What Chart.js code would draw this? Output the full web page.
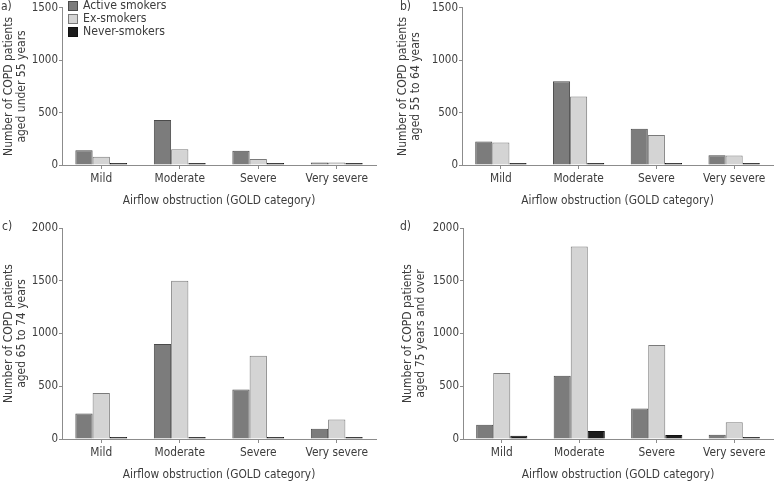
<!DOCTYPE html>
<html>
<head>
<meta charset="utf-8">
<script src="https://cdn.jsdelivr.net/npm/chart.js@4/dist/chart.umd.min.js"></script>
<style>
  body { margin: 0; background: #fff; }
  #wrap { position: relative; width: 783px; height: 482px; }
  .panel { position: absolute; }
</style>
</head>
<body>
<div id="wrap">
  <div class="panel" style="left:0;top:0;width:390px;height:220px"><canvas id="chartA"></canvas></div>
  <div class="panel" style="left:390px;top:0;width:393px;height:220px"><canvas id="chartB"></canvas></div>
  <div class="panel" style="left:0;top:220px;width:390px;height:262px"><canvas id="chartC"></canvas></div>
  <div class="panel" style="left:390px;top:220px;width:393px;height:262px"><canvas id="chartD"></canvas></div>
</div>
<script>
// GOLD categories and smoking groups
const categories = ['Mild', 'Moderate', 'Severe', 'Very severe'];
const seriesNames = ['Active smokers', 'Ex-smokers', 'Never-smokers'];

// a) under 55 years
const under55Active = [140, 430, 135, 25];
const under55Ex = [78, 150, 57, 25];
const under55Never = [5, 6, 4, 5];

// b) 55 to 64 years
const age55to64Active = [225, 800, 345, 94];
const age55to64Ex = [214, 655, 287, 90];
const age55to64Never = [15, 20, 12, 3];

// c) 65 to 74 years
const age65to74Active = [242, 900, 470, 97];
const age65to74Ex = [435, 1500, 790, 186];
const age65to74Never = [12, 18, 12, 5];

// d) 75 years and over
const over75Active = [135, 600, 290, 40];
const over75Ex = [625, 1825, 890, 158];
const over75Never = [30, 75, 38, 5];

const ticksTop = [0, 500, 1000, 1500];
const ticksBottom = [0, 500, 1000, 1500, 2000];

const FONT = "'DejaVu Sans Condensed', 'Roboto', sans-serif";
const TEXT = '#3c3c3c';
const AXIS = '#8c8c8c';
const fills = ['#7c7c7c', '#d4d4d4', '#1c1c1c'];
const borders = ['#4a4a4a', '#7a7a7a', '#111111'];

// panel letter a) b) c) d)
const letterPlugin = {
    id: 'panelLetter',
    afterDraw(chart, args, opts) {
        const ctx = chart.ctx;
        ctx.save();
        ctx.font = Chart.helpers.toFont({ family: FONT, size: 12 }).string;
        ctx.fillStyle = TEXT;
        ctx.textBaseline = 'middle';
        ctx.fillText(opts.text, opts.x, opts.y);
        ctx.restore();
    }
};

// small legend tucked in the top-left corner of the plot
const cornerLegend = {
    id: 'cornerLegend',
    afterDraw(chart, args, opts) {
        if (!opts.show) return;
        const ctx = chart.ctx;
        const x = chart.chartArea.left + 6;
        ctx.save();
        ctx.font = Chart.helpers.toFont({ family: FONT, size: 12.2 }).string;
        ctx.textBaseline = 'middle';
        chart.data.datasets.forEach((ds, i) => {
            const y = 6 + i * 13;
            ctx.fillStyle = ds.backgroundColor;
            ctx.fillRect(x, y - 5, 10, 10);
            ctx.strokeStyle = ds.borderColor;
            ctx.lineWidth = 1;
            ctx.strokeRect(x + 0.5, y - 4.5, 9, 9);
            ctx.fillStyle = TEXT;
            ctx.fillText(ds.label, x + 15, y);
        });
        ctx.restore();
    }
};

function makeChart(id, cfg) {
    const datasets = [cfg.active, cfg.ex, cfg.never].map((vals, i) => ({
        label: seriesNames[i],
        data: vals,
        backgroundColor: fills[i],
        borderColor: borders[i],
        borderWidth: 1,
        minBarLength: 2,
        categoryPercentage: 0.66,
        barPercentage: 1
    }));

    return new Chart(document.getElementById(id), {
        type: 'bar',
        data: { labels: categories, datasets },
        options: {
            responsive: true,
            maintainAspectRatio: false,
            animation: false,
            layout: { padding: { top: cfg.top, right: cfg.right, left: cfg.padLeft, bottom: cfg.padBottom } },
            plugins: {
                legend: { display: false },
                tooltip: { enabled: false },
                panelLetter: { text: cfg.letter, x: cfg.letterX, y: 7 },
                cornerLegend: { show: cfg.legend }
            },
            scales: {
                x: {
                    grid: { display: true, drawOnChartArea: false, drawTicks: true, tickLength: 4, color: AXIS, offset: false },
                    border: { display: true, color: AXIS },
                    ticks: { color: TEXT, font: { family: FONT, size: 11.8 }, padding: 3 },
                    title: {
                        display: true,
                        text: 'Airflow obstruction (GOLD category)',
                        color: TEXT,
                        font: { family: FONT, size: 11.8 },
                        padding: { top: 4, bottom: cfg.titleBottom }
                    },
                    afterFit(scale) { scale.height = cfg.xHeight; }
                },
                y: {
                    min: 0,
                    max: cfg.max,
                    afterBuildTicks(scale) { scale.ticks = cfg.ticks.map(v => ({ value: v })); },
                    grid: { display: true, drawOnChartArea: false, drawTicks: true, tickLength: 3, color: AXIS },
                    border: { display: true, color: AXIS },
                    ticks: { color: TEXT, font: { family: FONT, size: 11.5 }, padding: 1, callback: v => String(v) },
                    title: {
                        display: true,
                        text: cfg.yTitle,
                        color: TEXT,
                        font: { family: FONT, size: 12, lineHeight: 1.08 },
                        padding: { top: 0, bottom: 0 }
                    },
                    afterFit(scale) { scale.width = cfg.yWidth; }
                }
            }
        },
        plugins: [letterPlugin, cornerLegend]
    });
}

makeChart('chartA', {
    active: under55Active, ex: under55Ex, never: under55Never,
    max: 1500, ticks: ticksTop, letter: 'a)', letterX: 1, legend: true,
    yTitle: ['Number of COPD patients', 'aged under 55 years'],
    top: 6, right: 14, padLeft: 2, padBottom: 12, titleBottom: 0, yWidth: 60, xHeight: 43
});
makeChart('chartB', {
    active: age55to64Active, ex: age55to64Ex, never: age55to64Never,
    max: 1500, ticks: ticksTop, letter: 'b)', letterX: 10, legend: false,
    yTitle: ['Number of COPD patients', 'aged 55 to 64 years'],
    top: 6, right: 10, padLeft: 6, padBottom: 12, titleBottom: 0, yWidth: 66, xHeight: 43
});
makeChart('chartC', {
    active: age65to74Active, ex: age65to74Ex, never: age65to74Never,
    max: 2000, ticks: ticksBottom, letter: 'c)', letterX: 2, legend: false,
    yTitle: ['Number of COPD patients', 'aged 65 to 74 years'],
    top: 8, right: 14, padLeft: 2, padBottom: 0, titleBottom: 0, yWidth: 60, xHeight: 43
});
makeChart('chartD', {
    active: over75Active, ex: over75Ex, never: over75Never,
    max: 2000, ticks: ticksBottom, letter: 'd)', letterX: 10, legend: false,
    yTitle: ['Number of COPD patients', 'aged 75 years and over'],
    top: 8, right: 10, padLeft: 11, padBottom: 0, titleBottom: 0, yWidth: 62, xHeight: 43
});
</script>
</body>
</html>
